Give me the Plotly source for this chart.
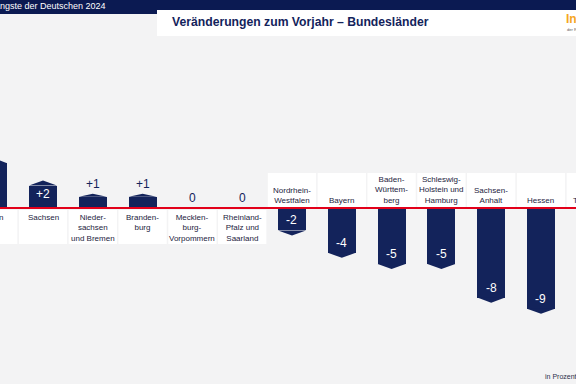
import plotly.graph_objects as go

# ---- data ----
regions = ["Berlin", "Sachsen", "Nieder-<br>sachsen<br>und Bremen", "Branden-<br>burg",
           "Mecklen-<br>burg-<br>Vorpommern", "Rheinland-<br>Pfalz und<br>Saarland",
           "Nordrhein-<br>Westfalen", "Bayern", "Baden-<br>Württem-<br>berg",
           "Schleswig-<br>Holstein und<br>Hamburg", "Sachsen-<br>Anhalt", "Hessen", "Thüringen"]
changes = [4, 2, 1, 1, 0, 0, -2, -4, -5, -5, -8, -9, -10]
value_labels = ["+4", "+2", "+1", "+1", "0", "0", "-2", "-4", "-5", "-5", "-8", "-9", "-10"]

NAVY = "#13235b"
RED = "#e2001a"
BG = "#f3f3f4"
FONT = "Arial, Liberation Sans, sans-serif"

W, H = 576, 384
x_lo, x_hi = 0.1365, 11.703
y_hi = 208 / 11.2
y_lo = y_hi - H / 11.2
bw = 0.56

def py(px):  # pixel row -> paper fraction
    return 1 - px / H

def px_x(px):
    return px / W

def xp(i):  # category index -> paper fraction (keeps off-range labels visible)
    return (i - x_lo) / (x_hi - x_lo)

def yp(v):  # value -> paper fraction
    return (v - y_lo) / (y_hi - y_lo)

idx = list(range(len(regions)))

fig = go.Figure()
fig.add_trace(go.Bar(x=idx, y=changes, width=bw, marker=dict(color=NAVY, line=dict(width=0)),
                     hoverinfo="skip", showlegend=False))

shapes = []
annotations = []

# white label boxes (behind)
for i, v in zip(idx, changes):
    if v >= 0:
        y0, y1 = py(244), py(210)
    else:
        y0, y1 = py(207), py(173)
    shapes.append(dict(type="rect", xref="x", yref="paper", x0=i - 0.485, x1=i + 0.485,
                       y0=y0, y1=y1, fillcolor="white", line=dict(width=0), layer="below"))

# pointed tips computed from the values
for i, v in zip(idx, changes):
    if v == 0:
        continue
    t = 0.45 if abs(v) >= 2 else 0.28
    s = 1 if v > 0 else -1
    path = f"M {i - bw/2},{v} L {i},{v + s*t} L {i + bw/2},{v} Z"
    shapes.append(dict(type="path", xref="x", yref="y", path=path,
                       fillcolor=NAVY, line=dict(width=0), layer="above"))

# zero line
shapes.append(dict(type="line", xref="paper", yref="y", x0=0, x1=1, y0=0, y1=0,
                   line=dict(color=RED, width=2), layer="above"))

# header band and title box
shapes.append(dict(type="rect", xref="paper", yref="paper", x0=0, x1=1, y0=py(14), y1=1,
                   fillcolor="#0b1a52", line=dict(width=0), layer="above"))
shapes.append(dict(type="rect", xref="paper", yref="paper", x0=px_x(157), x1=1, y0=py(36), y1=py(10),
                   fillcolor="white", line=dict(width=0), layer="above"))

# category labels
for i, v, r in zip(idx, changes, regions):
    if v >= 0:
        annotations.append(dict(x=xp(i), y=py(211), xref="paper", yref="paper", text=r, showarrow=False,
                                yanchor="top", xanchor="center",
                                font=dict(size=8, color="#1d2340", family=FONT)))
    else:
        annotations.append(dict(x=xp(i), y=py(207), xref="paper", yref="paper", text=r, showarrow=False,
                                yanchor="bottom", xanchor="center",
                                font=dict(size=8, color="#1d2340", family=FONT)))

# value labels
for i, v, lab in zip(idx, changes, value_labels):
    if v >= 2:
        annotations.append(dict(x=xp(i), y=yp(v), xref="paper", yref="paper", text=lab, showarrow=False,
                                xanchor="center", yanchor="top", yshift=1,
                                font=dict(size=12, color="white", family=FONT)))
    elif v >= 0:
        annotations.append(dict(x=xp(i), y=yp(v + (0.28 if v > 0 else 0)), xref="paper", yref="paper",
                                text=lab, showarrow=False, xanchor="center", yanchor="bottom", yshift=1,
                                font=dict(size=12, color=NAVY, family=FONT)))
    else:
        annotations.append(dict(x=xp(i), y=yp(v), xref="paper", yref="paper", text=lab, showarrow=False,
                                xanchor="center", yanchor="bottom", yshift=1,
                                font=dict(size=12, color="white", family=FONT)))

# header text
annotations.append(dict(x=px_x(108), y=py(6), xref="paper", yref="paper",
                        text="Die Ängste der Deutschen 2024", showarrow=False,
                        xanchor="right", yanchor="middle",
                        font=dict(size=9, color="white", family=FONT)))
annotations.append(dict(x=px_x(170), y=py(22), xref="paper", yref="paper",
                        text="<b>Veränderungen zum Vorjahr – Bundesländer</b>", showarrow=False,
                        xanchor="left", yanchor="middle",
                        font=dict(size=12.2, color="#13235b", family=FONT)))
annotations.append(dict(x=px_x(564), y=py(19), xref="paper", yref="paper",
                        text="<b>Infocenter</b>", showarrow=False, xanchor="left", yanchor="middle",
                        font=dict(size=12, color="#f5a623", family=FONT)))
annotations.append(dict(x=px_x(565), y=py(29), xref="paper", yref="paper",
                        text="der R+V Versicherung", showarrow=False, xanchor="left", yanchor="middle",
                        font=dict(size=4, color="#555555", family=FONT)))
annotations.append(dict(x=px_x(543), y=py(376), xref="paper", yref="paper",
                        text="in Prozent", showarrow=False, xanchor="left", yanchor="middle",
                        font=dict(size=7, color="#2a2f4a", family=FONT)))

fig.update_layout(
    width=W, height=H, margin=dict(l=0, r=0, t=0, b=0),
    paper_bgcolor=BG, plot_bgcolor=BG,
    xaxis=dict(range=[x_lo, x_hi], visible=False, fixedrange=True),
    yaxis=dict(range=[y_lo, y_hi], visible=False, fixedrange=True),
    shapes=shapes, annotations=annotations, bargap=0, showlegend=False,
)

fig.write_html("out.html", config={"displayModeBar": False},
               post_script="document.body.style.margin='0';document.body.style.overflow='hidden';")
